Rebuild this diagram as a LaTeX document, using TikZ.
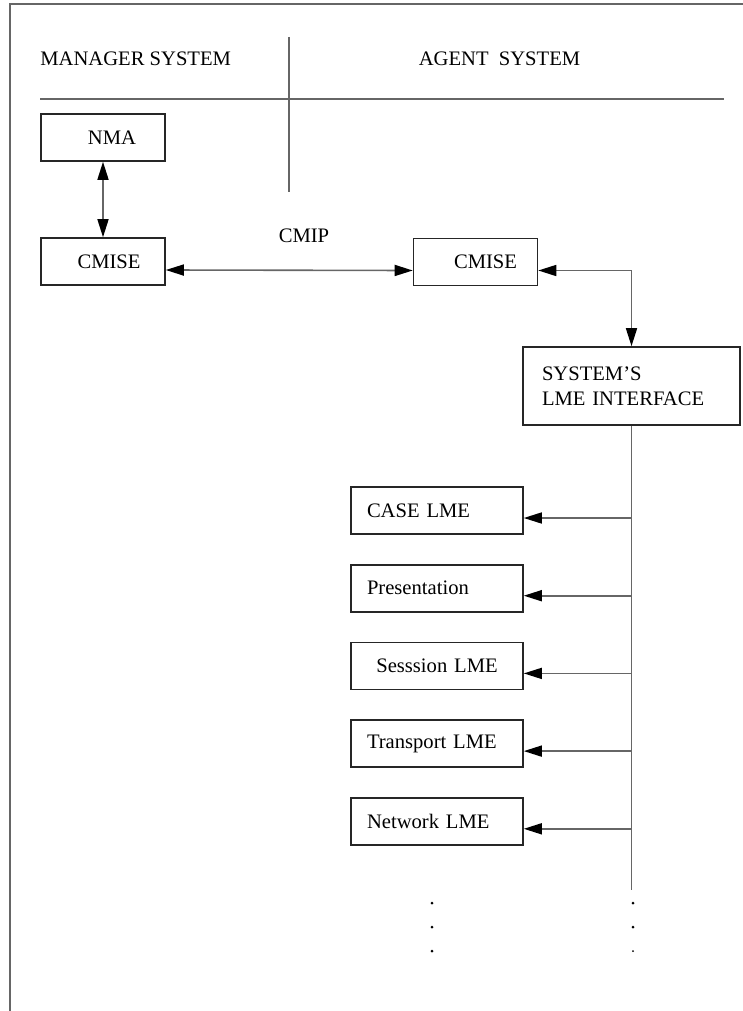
\documentclass[tikz,border=0pt]{standalone}
\usepackage{fontspec}
\setmainfont{Liberation Serif}
\usetikzlibrary{arrows.meta,calc}
\colorlet{mgLine}{black!60}
\colorlet{mgEdge}{black!85}
\tikzset{
  mgbox/.style={
    rectangle, draw=mgEdge, line width=0.8pt,
    minimum width=62pt, minimum height=23.5pt, align=center,
    font=\fontsize{10.3}{12.5}\selectfont, inner sep=0pt
  },
  mglme/.style={
    mgbox, minimum width=86pt, text width=70pt, inner xsep=8pt, align=left
  },
  mgtip/.tip={Triangle[length=9pt,width=5.5pt,color=black]},
  mgarrow/.style={-mgtip, line width=0.8pt, draw=mgLine},
  mgback/.style={mgtip-, line width=0.8pt, draw=mgLine},
  mgboth/.style={mgtip-mgtip, line width=0.8pt, draw=mgLine},
  mgrule/.style={line width=0.8pt, draw=mgLine},
  mgtitle/.style={font=\fontsize{10.3}{12.5}\selectfont, inner sep=0pt}
}
\begin{document}
\begin{tikzpicture}[x=0.5pt,y=-0.5pt]
  \useasboundingbox (0,0) rectangle (743,1011);
  % frame and header
  \draw[mgrule, line width=1pt] (9.5,1011) -- (9.5,4.5) -- (743,4.5);
  \draw[mgrule] (40,99) -- (724,99);
  \draw[mgrule] (289,37) -- (289,192);
  \node[mgtitle, anchor=west] (mgr) at (40,58.5) {MANAGER SYSTEM};
  \node[mgtitle] (agent) at (499.5,58.5) {AGENT\ \ SYSTEM};

  \node[mgbox] (nma) at (103,137.5) {\hspace*{9pt}NMA};
  \node[mgbox] (cmiseM) at (103,261.5) {\hspace*{6pt}CMISE};
  \node[mgbox] (cmiseA) at (475.5,262) {\hspace*{10pt}CMISE};
  \node[mgtitle] (cmip) at (304,236) {CMIP};
  \node[mgbox, minimum width=108.5pt, text width=89.5pt, inner xsep=9.5pt,
    minimum height=39pt, align=left] (lmeif) at (631.5,386)
    {SYSTEM'S\\LME INTERFACE};

  \node[mglme] (case) at (437,510.5) {CASE LME};
  \node[mglme] (pres) at (437,588.2) {Presentation};
  \node[mglme, align=center] (sess) at (437,665.9) {Sesssion LME};
  \node[mglme] (trans) at (437,743.6) {Transport LME};
  \node[mglme] (net) at (437,821.3) {Network LME};

  \draw[mgboth] (nma.south) -- (cmiseM.north);
  \draw[mgboth] ([yshift=-4.25pt]cmiseM.east) -- ([yshift=-4.25pt]cmiseA.west);
  \draw[mgboth] ([yshift=-4.25pt]cmiseA.east) -| (lmeif.north);

  \coordinate (busend) at (631.5,890);
  \draw[mgrule] (lmeif.south) -- (lmeif.south |- busend);
  \foreach \n in {case,pres,sess,trans,net}
    \draw[mgback] ([yshift=-3.75pt]\n.east) coordinate (t) -- (t -| lmeif.south);

  % continuation dots
  \foreach \y in {903,927,951} {
    \fill (432,\y) circle (0.75pt);
  }
  \fill (633,903) circle (0.75pt);
  \fill (633,927) circle (0.75pt);
  \fill (633,951) circle (0.5pt);
\end{tikzpicture}
\end{document}
